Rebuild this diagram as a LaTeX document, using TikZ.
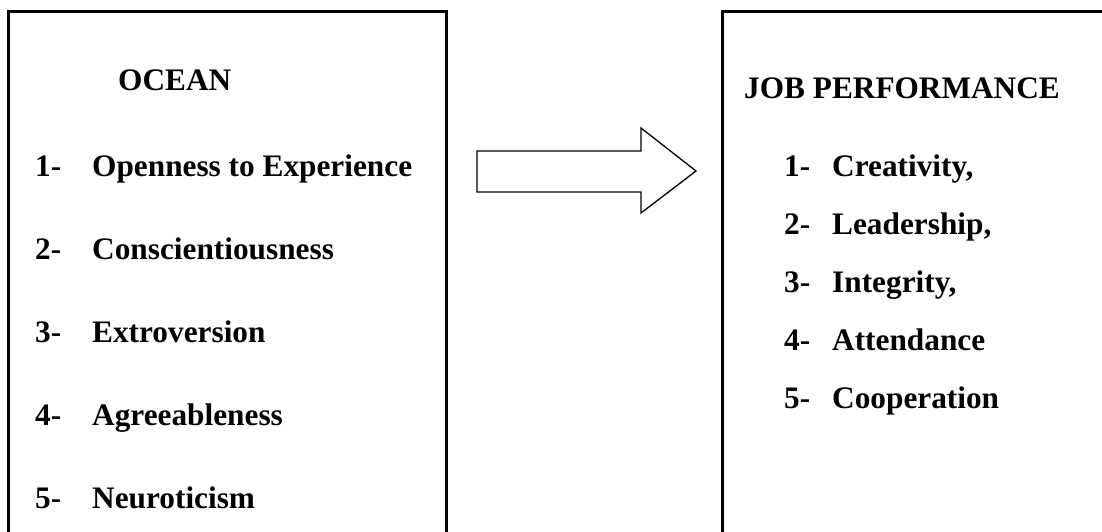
\documentclass[tikz,border=0pt]{standalone}
\usepackage{fontspec}
\setmainfont{Liberation Serif}
\begin{document}
\begin{tikzpicture}[x=1pt,y=-1pt,
  lbl/.style={anchor=base west,inner sep=0pt,font=\fontsize{31.3}{36}\selectfont\bfseries},
  boxline/.style={draw=black,line width=3pt},
  arrowline/.style={draw=black,line width=1.3pt,line join=miter}]
\useasboundingbox (0,0) rectangle (1102,531);
\clip (0,0) rectangle (1102,531);
% boxes
\draw[boxline] (8,560) -- (8,11) -- (446,11) -- (446,560);
\draw[boxline] (722,560) -- (722,11) -- (1120,11);
% arrow
\draw[arrowline] (477,151) -- (641,151) -- (641,128) -- (696,171) -- (641,213) -- (641,192) -- (477,192) -- cycle;
% left texts
\node[lbl] (ocean) at (118,90) {OCEAN};
\foreach \n/\t/\y in {1/{Openness to Experience}/176,2/{Conscientiousness}/259,3/{Extroversion}/342,4/{Agreeableness}/425,5/{Neuroticism}/508}{
  \node[lbl] (ln\n) at (35,\y) {\n-};
  \node[lbl] (lt\n) at (92,\y) {\t};
}
% right texts
\node[lbl] (job) at (744,98) {JOB PERFORMANCE};
\foreach \n/\t/\y in {1/{Creativity,}/176,2/{Leadership,}/234,3/{Integrity,}/292,4/{Attendance}/350,5/{Cooperation}/408}{
  \node[lbl] (rn\n) at (784,\y) {\n-};
  \node[lbl] (rt\n) at (832,\y) {\t};
}
\end{tikzpicture}
\end{document}
